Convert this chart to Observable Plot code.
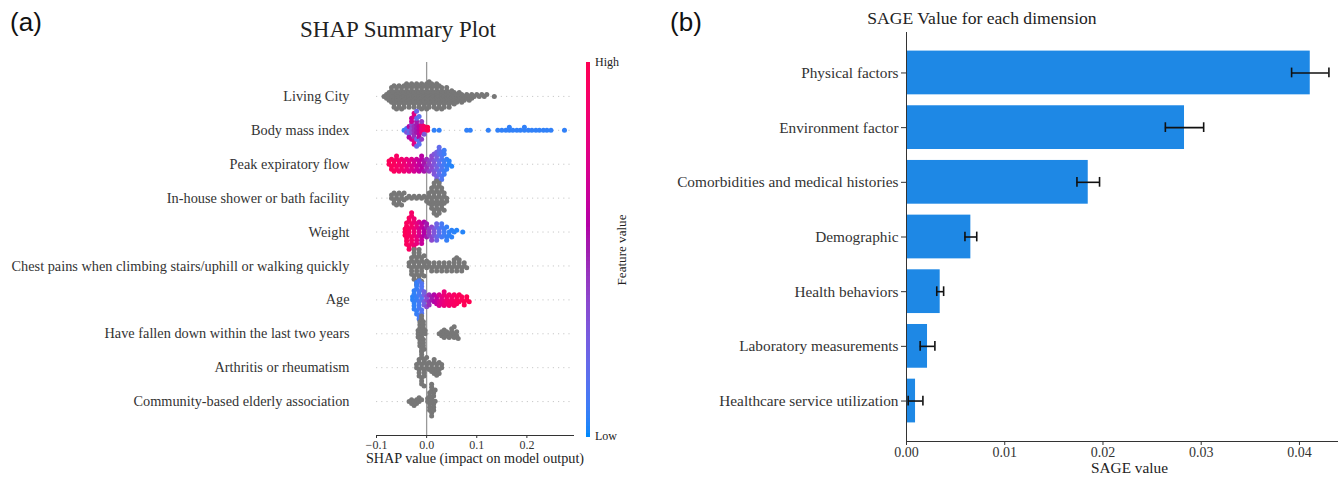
<!DOCTYPE html>
<html>
<head>
<meta charset="utf-8">
<script src="https://cdn.jsdelivr.net/npm/d3@7"></script>
<script src="https://cdn.jsdelivr.net/npm/@observablehq/plot@0.6"></script>
<style>
  html, body { margin: 0; padding: 0; background: #fff; overflow: hidden; }
  #root { position: relative; width: 1338px; height: 477px; overflow: hidden; background: #fff; }
  .layer { position: absolute; }
  .layer svg { max-width: none !important; overflow: visible; }
  .t { position: absolute; white-space: nowrap; line-height: 1; }
  .serif { font-family: "Liberation Serif", "DejaVu Serif", serif; color: #222; }
  .sans { font-family: "Liberation Sans", Arial, sans-serif; color: #111; }
</style>
</head>
<body>
<div id="root"></div>
<script>
// ---------------- Panel (a): SHAP summary data ----------------
const features = [
  "Living City",
  "Body mass index",
  "Peak expiratory flow",
  "In-house shower or bath facility",
  "Weight",
  "Chest pains when climbing stairs/uphill or walking quickly",
  "Age",
  "Have fallen down within the last two years",
  "Arthritis or rheumatism",
  "Community-based elderly association"
];
const shapTicks = [-0.1, 0.0, 0.1, 0.2];

// each entry: [SHAP value, number of dots at that value, feature value (0 low .. 1 high, null = no colour)]
const livingCity = [
  [-0.085,1,null],[-0.08,2,null],[-0.075,3,null],[-0.07,5,null],[-0.065,6,null],[-0.06,6,null],
  [-0.055,6,null],[-0.05,6,null],[-0.045,6,null],[-0.04,6,null],[-0.035,6,null],[-0.03,6,null],
  [-0.025,6,null],[-0.02,6,null],[-0.015,6,null],[-0.01,7,null],[-0.005,6,null],[0,7,null],
  [0.005,7,null],[0.01,6,null],[0.015,6,null],[0.02,7,null],[0.025,6,null],[0.03,6,null],
  [0.035,5,null],[0.04,5,null],[0.045,5,null],[0.05,4,null],[0.055,4,null],[0.06,3,null],
  [0.065,3,null],[0.07,3,null],[0.075,2,null],[0.08,2,null],[0.085,2,null],[0.09,2,null],
  [0.095,1,null],[0.1,1,null],[0.105,1,null],[0.11,1,null],[0.115,1,null],[0.12,1,null],[0.135,1,null]
];
const bodyMassIndex = [
  [-0.045,1,0.05],[-0.04,1,0.1],[-0.04,1,0.3],[-0.035,2,0.2],[-0.035,2,0.55],
  [-0.03,3,0.35],[-0.03,3,0.65],[-0.025,4,0.45],[-0.025,4,0.75],[-0.02,4,0.5],[-0.02,4,0.2],
  [-0.015,4,0.6],[-0.015,3,0.15],[-0.01,3,0.8],[-0.01,2,0.4],[-0.005,2,0.9],[-0.005,1,0.3],[0.002,2,1],
  [0.015,1,0.05],[0.025,1,0.05],[0.08,1,0.05],[0.087,1,0.05],[0.123,1,0.05],
  [0.142,1,0.05],[0.15,1,0.05],[0.158,1,0.05],[0.165,2,0.05],[0.172,1,0.05],[0.18,1,0.05],
  [0.187,1,0.05],[0.195,2,0.05],[0.203,1,0.05],[0.21,1,0.05],[0.218,1,0.05],[0.225,1,0.05],
  [0.233,1,0.05],[0.24,1,0.05],[0.248,1,0.05],[0.275,1,0.05]
];
const peakExpiratoryFlow = [
  [-0.075,2,0.97],[-0.07,3,0.95],[-0.065,3,0.95],[-0.06,4,0.92],[-0.055,3,0.9],[-0.05,3,0.88],
  [-0.045,3,0.85],[-0.04,3,0.82],[-0.035,3,0.78],[-0.03,3,0.74],[-0.025,3,0.7],[-0.02,3,0.66],
  [-0.015,3,0.62],[-0.01,4,0.58],[-0.005,3,0.52],[0,3,0.46],[0.005,3,0.4],[0.01,4,0.35],
  [0.015,5,0.3],[0.02,7,0.25],[0.025,8,0.18],[0.03,7,0.12],[0.035,6,0.08],[0.04,3,0.06],
  [0.045,2,0.04],[0.05,1,0.03]
];
const inHouseShower = [
  [-0.07,2,null],[-0.065,3,null],[-0.06,3,null],[-0.055,3,null],[-0.05,3,null],[-0.045,2,null],
  [-0.04,1,null],[-0.035,1,null],[-0.03,1,null],[-0.025,1,null],[-0.02,1,null],[-0.015,1,null],
  [-0.01,1,null],[-0.005,1,null],[0,2,null],[0.005,3,null],[0.01,6,null],[0.015,7,null],
  [0.02,8,null],[0.025,7,null],[0.03,6,null],[0.035,4,null],[0.04,2,null]
];
const weight = [
  [-0.043,3,0.97],[-0.04,5,0.95],[-0.035,7,0.93],[-0.03,7,0.9],[-0.025,7,0.85],[-0.02,5,0.8],
  [-0.015,4,0.72],[-0.01,5,0.64],[-0.005,4,0.56],[0,3,0.5],[0.005,3,0.42],[0.01,3,0.36],
  [0.015,3,0.3],[0.02,4,0.22],[0.025,3,0.16],[0.03,3,0.1],[0.035,3,0.08],[0.04,3,0.06],
  [0.045,2,0.05],[0.05,2,0.04],[0.055,1,0.04],[0.06,1,0.03],[0.072,1,0.03]
];
const chestPains = [
  [-0.035,2,null],[-0.03,5,null],[-0.025,7,null],[-0.02,7,null],[-0.015,7,null],[-0.01,6,null],
  [-0.005,4,null],[0,2,null],[0.005,2,null],[0.01,2,null],[0.015,2,null],[0.02,2,null],
  [0.025,2,null],[0.03,2,null],[0.035,2,null],[0.04,2,null],[0.045,2,null],[0.05,2,null],
  [0.055,3,null],[0.06,3,null],[0.065,3,null],[0.07,2,null],[0.075,2,null],[0.08,1,null]
];
const age = [
  [-0.028,2,0.04],[-0.025,5,0.05],[-0.02,7,0.06],[-0.015,8,0.09],[-0.01,7,0.13],[-0.005,4,0.25],
  [0,3,0.35],[0.005,3,0.45],[0.01,2,0.5],[0.015,2,0.55],[0.02,3,0.62],[0.025,3,0.7],
  [0.03,3,0.76],[0.035,4,0.82],[0.04,3,0.86],[0.045,3,0.88],[0.05,3,0.9],[0.055,3,0.92],
  [0.06,3,0.94],[0.065,2,0.96],[0.07,2,0.97],[0.075,2,0.98],[0.08,2,1],[0.085,1,1]
];
const haveFallen = [
  [-0.017,3,null],[-0.0135,6,null],[-0.01,7,null],[-0.0065,6,null],[-0.003,2,null],
  [0.025,1,null],[0.03,2,null],[0.035,3,null],[0.04,2,null],[0.045,2,null],[0.05,3,null],
  [0.055,3,null],[0.06,2,null],[0.063,1,null]
];
const arthritis = [
  [-0.02,2,null],[-0.015,5,null],[-0.01,8,null],[-0.005,7,null],[0,3,null],[0.005,2,null],
  [0.01,3,null],[0.015,4,null],[0.02,4,null],[0.025,3,null],[0.03,2,null]
];
const communityAssociation = [
  [-0.035,1,null],[-0.03,2,null],[-0.025,2,null],[-0.02,2,null],[-0.015,2,null],[-0.01,1,null],
  [0.002,2,null],[0.006,5,null],[0.01,7,null],[0.014,5,null],[0.017,2,null]
];

// ---------------- Panel (b): SAGE data ----------------
const dimensions = [
  "Physical factors",
  "Environment factor",
  "Comorbidities and medical histories",
  "Demographic",
  "Health behaviors",
  "Laboratory measurements",
  "Healthcare service utilization"
];
const sageValues = [0.0411, 0.0283, 0.0185, 0.00655, 0.00343, 0.00214, 0.00092];
const sageErrors = [0.0019, 0.00195, 0.00115, 0.0006, 0.00035, 0.00075, 0.00075];
const sageTicks = [0, 0.01, 0.02, 0.03, 0.04];

// ---------------- build ----------------
const rowBins = [livingCity, bodyMassIndex, peakExpiratoryFlow, inHouseShower, weight,
  chestPains, age, haveFallen, arthritis, communityAssociation];
const points = rowBins.flatMap((bins, k) =>
  bins.flatMap(([x, n, fv]) => Array.from({length: n}, () => ({feature: features[k], x, fv}))));
const sage = dimensions.map((d, i) => ({dim: d, value: sageValues[i], lo: sageValues[i] - sageErrors[i], hi: sageValues[i] + sageErrors[i]}));

const root = document.getElementById("root");
const SERIF = '"Liberation Serif", "DejaVu Serif", serif';
function layer(node, left, top) {
  const d = document.createElement("div");
  d.className = "layer"; d.style.left = left + "px"; d.style.top = top + "px";
  d.appendChild(node); root.appendChild(d);
}
function label(text, x, y, cls, size, opts = {}) {
  const d = document.createElement("div");
  d.className = "t " + cls; d.textContent = text;
  d.style.fontSize = size + "px";
  d.style.left = x + "px"; d.style.top = y + "px";
  const ax = opts.anchor === "start" ? "0" : opts.anchor === "end" ? "-100%" : "-50%";
  d.style.transform = `translate(${ax}, -50%)` + (opts.rotate ? ` rotate(${opts.rotate}deg)` : "");
  root.appendChild(d);
}

const colorScale = {
  type: "linear",
  domain: [0, 0.5, 1],
  range: [d3.hcl(267, 70, 54).toString(), d3.hcl(323.5, 80, 40).toString(), d3.hcl(20.3, 90, 54).toString()],
  interpolate: "hcl",
  unknown: "#777777"
};
const shapX = [-0.1, 0.293];
const A = {width: 600, height: 477, marginLeft: 376, marginRight: 27, marginTop: 62, marginBottom: 42};

// background layer: grid, zero line, axes, labels
const shapBg = Plot.plot({
  ...A,
  style: {fontFamily: SERIF, color: "#333", background: "white", overflow: "visible"},
  x: {domain: shapX, label: null},
  y: {type: "point", domain: features, padding: 1, round: false, label: null},
  marks: [
    Plot.ruleY(features, {y: d => d, stroke: "#c8c8c8", strokeWidth: 1, strokeDasharray: "1.2,4"}),
    Plot.ruleX([0], {stroke: "#999999", strokeWidth: 1.3}),
    Plot.frame({anchor: "bottom", stroke: "#333"}),
    Plot.axisX({ticks: shapTicks, tickFormat: d3.format(".1f"), tickSize: 3, tickPadding: 2, fontSize: 12, label: null}),
    Plot.axisY({tickSize: 0, tickPadding: 27, fontSize: 14.3, label: null}),
    Plot.text(["SHAP value (impact on model output)"], {text: d => d, frameAnchor: "bottom", dy: 27, fontSize: 14.2, fill: "#222"})
  ]
});
layer(shapBg, 0, 0);

// swarm layer
const shapDots = Plot.plot({
  ...A,
  style: {background: "transparent"},
  x: {domain: shapX, axis: null},
  fy: {domain: features, axis: null, paddingInner: 0, paddingOuter: 0.5, round: false},
  color: colorScale,
  marks: [
    Plot.dot(points, Plot.dodgeY({anchor: "middle", padding: -1.85, x: "x", fy: "feature", fill: "fv", r: 2.5}))
  ]
});
layer(shapDots, 0, 0);

// colour bar
const stops = d3.range(0, 1, 0.01);
const cbar = Plot.plot({
  width: 4, height: 375, margin: 0,
  style: {background: "transparent"},
  x: {axis: null}, y: {domain: [0, 1], axis: null},
  color: colorScale,
  marks: [Plot.rect(stops, {y1: d => d, y2: d => d + 0.0101, fill: d => d, shapeRendering: "crispEdges"})]
});
layer(cbar, 586, 62);
label("High", 595, 62, "serif", 12, {anchor: "start"});
label("Low", 595, 436, "serif", 12, {anchor: "start"});
label("Feature value", 622, 250, "serif", 13.1, {rotate: -90});

// ---------------- Panel (b) ----------------
const sagePlot = Plot.plot({
  width: 692, height: 477, marginLeft: 246, marginRight: 0, marginTop: 32, marginBottom: 36,
  style: {fontFamily: SERIF, color: "#333", background: "transparent"},
  x: {domain: [0, 0.0454], label: null},
  y: {type: "band", domain: dimensions, paddingInner: 0.2, paddingOuter: 0.34, round: false, label: null},
  marks: [
    Plot.barX(sage, {x: "value", y: "dim", fill: "#1e88e5"}),
    Plot.ruleY(sage, {y: "dim", x1: "lo", x2: "hi", stroke: "#111", strokeWidth: 1.6}),
    Plot.tickX(sage, {x: "lo", y: "dim", stroke: "#111", strokeWidth: 1.6, insetTop: 17, insetBottom: 17}),
    Plot.tickX(sage, {x: "hi", y: "dim", stroke: "#111", strokeWidth: 1.6, insetTop: 17, insetBottom: 17}),
    Plot.frame({anchor: "left", stroke: "#333"}),
    Plot.frame({anchor: "bottom", stroke: "#333"}),
    Plot.axisX({ticks: sageTicks, tickFormat: d3.format(".2f"), tickSize: 4, tickPadding: 2, fontSize: 14, label: null}),
    Plot.axisY({tickSize: 5, tickPadding: 3, fontSize: 15.3, label: null}),
    Plot.text(["SAGE value"], {text: d => d, frameAnchor: "bottom", dy: 31, fontSize: 15.3, fill: "#222"})
  ]
});
layer(sagePlot, 660, 0);

// titles
label("(a)", 26, 22, "sans", 26);
label("(b)", 686, 22, "sans", 26);
label("SHAP Summary Plot", 398, 29, "serif", 23);
label("SAGE Value for each dimension", 982, 19, "serif", 17.6);
</script>
</body>
</html>
